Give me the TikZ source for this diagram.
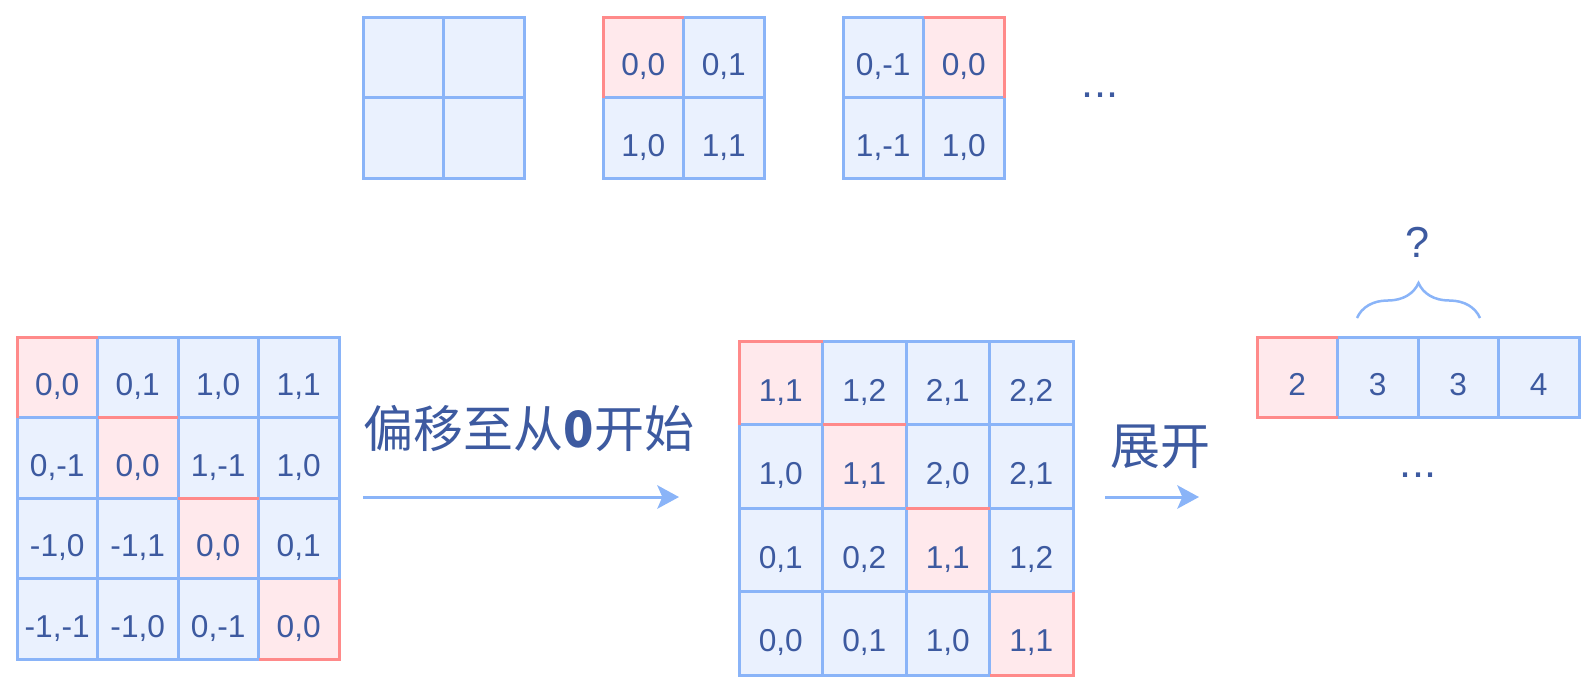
\documentclass[tikz,border=0pt]{standalone}
\usepackage{fontspec}
\setmainfont{Liberation Sans}
\newfontfamily\cjk{Noto Sans CJK SC}
\usetikzlibrary{arrows.meta,decorations.pathreplacing}
\definecolor{lineblue}{HTML}{8AB4F8}
\definecolor{fillblue}{HTML}{EAF1FE}
\definecolor{linered}{HTML}{FF8A8A}
\definecolor{fillred}{HTML}{FFE9EC}
\definecolor{textblue}{HTML}{3D5AA0}
\begin{document}
\begin{tikzpicture}[x=0.6pt, y=-0.6pt,
  cell/.style={draw=lineblue, fill=fillblue, line width=1.8pt, minimum size=48.3pt,
    inner sep=0pt, outer sep=0pt, text=textblue, font=\fontsize{19}{19}\selectfont,
    text height=22pt, text depth=0pt},
  redside/.style={draw=linered, line width=1.8pt},
  flow/.style={draw=lineblue, line width=1.8pt, -{Stealth[length=13pt, width=14pt, inset=3pt]}},
  caption/.style={text=textblue, font=\cjk\fontsize{30}{30}\selectfont},
  dots/.style={text=textblue, font=\fontsize{26}{26}\selectfont, anchor=base}]
\useasboundingbox (0,0) rectangle (1591,691);
% top row: empty window, two shifted windows
\foreach \r in {0,1}
  \foreach \c in {0,1}
    \node[cell] (a\r\c) at ({363+80.5*(\c+0.5)}, {17+80.5*(\r+0.5)}) {};
\foreach \lab [count=\k from 0] in {{0,0},{0,1},{1,0},{1,1}} {
  \pgfmathtruncatemacro\r{div(\k,2)}
  \pgfmathtruncatemacro\c{mod(\k,2)}
  \ifnum\k=0 \def\tone{fillred}\else\def\tone{fillblue}\fi
  \node[cell, fill=\tone] (b\r\c) at ({603+80.5*(\c+0.5)}, {17+80.5*(\r+0.5)}) {\lab};
}
\foreach \lab [count=\k from 0] in {{0,-1},{0,0},{1,-1},{1,0}} {
  \pgfmathtruncatemacro\r{div(\k,2)}
  \pgfmathtruncatemacro\c{mod(\k,2)}
  \ifnum\k=1 \def\tone{fillred}\else\def\tone{fillblue}\fi
  \node[cell, fill=\tone] (c\r\c) at ({843+80.5*(\c+0.5)}, {17+80.5*(\r+0.5)}) {\lab};
}
\node[dots] (topdots) at (1100,97) {...};
% relative positions
\foreach \lab [count=\k from 0] in {{0,0},{0,1},{1,0},{1,1},{0,-1},{0,0},{1,-1},{1,0},
    {-1,0},{-1,1},{0,0},{0,1},{-1,-1},{-1,0},{0,-1},{0,0}} {
  \pgfmathtruncatemacro\r{div(\k,4)}
  \pgfmathtruncatemacro\c{mod(\k,4)}
  \ifnum\r=\c \def\tone{fillred}\else\def\tone{fillblue}\fi
  \node[cell, fill=\tone] (l\r\c) at ({17+80.5*(\c+0.5)}, {337+80.5*(\r+0.5)}) {\lab};
}
% shifted positions
\foreach \lab [count=\k from 0] in {{1,1},{1,2},{2,1},{2,2},{1,0},{1,1},{2,0},{2,1},
    {0,1},{0,2},{1,1},{1,2},{0,0},{0,1},{1,0},{1,1}} {
  \pgfmathtruncatemacro\r{div(\k,4)}
  \pgfmathtruncatemacro\c{mod(\k,4)}
  \ifnum\r=\c \def\tone{fillred}\else\def\tone{fillblue}\fi
  \node[cell, fill=\tone, minimum size=50.1pt] (m\r\c) at ({739+83.5*(\c+0.5)}, {341+83.5*(\r+0.5)}) {\lab};
}
% flattened
\foreach \lab [count=\k from 0] in {2,3,3,4} {
  \ifnum\k=0 \def\tone{fillred}\else\def\tone{fillblue}\fi
  \node[cell, fill=\tone] (s\k) at ({1257+80.5*(\k+0.5)}, 377.5) {\lab};
}
% red edges of the diagonal cells
\draw[redside] (b00.south west) |- (b00.north east);
\draw[redside] (c01.north west) -| (c01.south east);
\draw[redside] (l00.south west) |- (l00.north east);
\draw[redside] (l11.north west) -- (l11.north east);
\draw[redside] (l22.north west) -- (l22.north east);
\draw[redside] (l33.north east) |- (l33.south west);
\draw[redside] (m00.south west) |- (m00.north east);
\draw[redside] (m11.north west) -- (m11.north east);
\draw[redside] (m22.north west) -- (m22.north east);
\draw[redside] (m33.north east) |- (m33.south west);
\draw[redside] (s0.north east) -- (s0.north west) -- (s0.south west) -- (s0.south east);
% arrows and captions
\node[caption] (shift) at (529,429) {偏移至从\textbf{0}开始};
\coordinate (shiftfrom) at (363,497);
\coordinate (shiftto) at (679,497);
\draw[flow] (shiftfrom) -- (shiftto);
\node[caption] (flat) at (1160,447) {展开};
\coordinate (flatfrom) at (1105,497);
\coordinate (flatto) at (1199,497);
\draw[flow] (flatfrom) -- (flatto);
% brace over the middle entries
\coordinate (bracefrom) at (1357,318);
\coordinate (braceto) at (1480,318);
\draw[draw=lineblue, line width=1.5pt, decorate, decoration={brace, amplitude=21pt}] (bracefrom) -- (braceto);
\node[dots] (ask) at (1418,257) {?};
\node[dots] (lowdots) at (1418,477) {...};
\end{tikzpicture}
\end{document}
